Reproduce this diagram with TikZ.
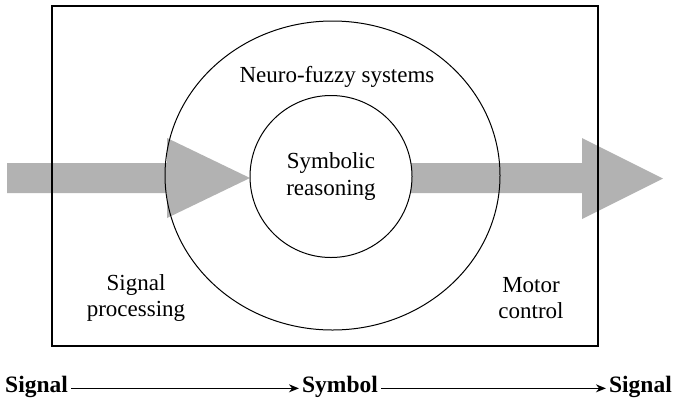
\documentclass[tikz,border=0pt]{standalone}
\usepackage{fontspec}
\setmainfont{Liberation Serif}
\usetikzlibrary{calc,arrows.meta}

\begin{document}
\begin{tikzpicture}[x=1pt,y=-1pt,
    lbl/.style={font=\fontsize{23}{26.5}\selectfont,align=center,inner sep=0pt},
    ends/.style={font=\fontsize{23.5}{26}\selectfont\bfseries,inner sep=0pt,text height=1.6ex,text depth=0pt},
    flow/.style={fill=black!30,draw=none},
    conn/.style={line width=1.2pt,-{Stealth[length=10pt,width=8pt]},shorten <=3pt,shorten >=3pt}]
    \useasboundingbox (0,0) rectangle (676,405);
    \coordinate (A) at (52,6);
    \coordinate (B) at (598,346);
    \coordinate (O) at (332.5,175.5);
    \coordinate (I) at (331,176.5);
    \fill[flow] (7,163) -- (167,163) -- (167,138) -- (250,178) -- (167,218) -- (167,193) -- (7,193) -- cycle;
    \fill[flow] (400,163) -- (582,163) -- (582,138) -- (663,178.5) -- (582,219) -- (582,193) -- (400,193) -- cycle;
    \draw[line width=1.6pt] (A) rectangle (B);
    \draw[line width=1pt] (O) ellipse [x radius=167.5, y radius=154.5];
    \draw[line width=1pt,fill=white] (I) circle [radius=81];
    \node[lbl,anchor=base] (nf) at (337,82) {Neuro-fuzzy systems};
    \node[lbl] (sr) at (I) {Symbolic\\reasoning};
    \node[lbl] (sp) at (136,298) {Signal\\processing};
    \node[lbl] (mc) at (531,298) {Motor\\control};
    \node[ends,anchor=base west] (s1) at (5,392) {Signal};
    \node[ends,anchor=base] (sym) at (340,392) {Symbol};
    \node[ends,anchor=base east] (s2) at (672,392) {Signal};
    \draw[conn] (s1) -- (sym);
    \draw[conn] (sym) -- (s2);
\end{tikzpicture}
\end{document}
